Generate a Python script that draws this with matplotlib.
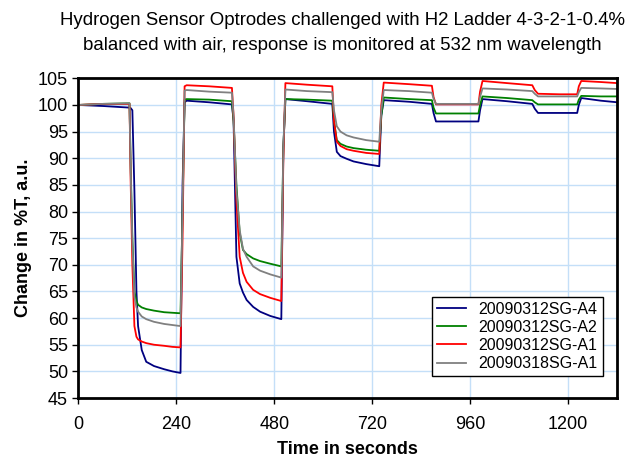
import matplotlib
matplotlib.use('Agg')
from matplotlib import pyplot as plt

plt.rcParams['font.family'] = ['Liberation Sans', 'DejaVu Sans']

# time grid (seconds), shared by all four optrodes
time_s = [0, 60, 125, 128, 132, 137, 142, 146, 155, 166, 185, 210, 230, 250,
          255, 260, 265, 320, 376,
          380, 387, 395, 403, 412, 428, 445, 470, 497,
          502, 507, 560, 622,
          626, 633, 642, 657, 674, 705, 737,
          742, 748, 810, 866,
          870, 876, 930, 980,
          984, 990, 1050, 1112,
          1118, 1126, 1180, 1222,
          1226, 1232, 1280, 1320]

sg_a4 = [100.0, 99.8, 99.5, 99.4, 99.0, 84.0, 65.0, 58.5, 54.0, 51.8, 51.0, 50.4, 50.0, 49.7,
         85.0, 100.5, 100.8, 100.5, 100.1,
         97.0, 71.5, 66.5, 64.8, 63.4, 62.1, 61.2, 60.4, 59.8,
         92.0, 101.1, 100.7, 100.2,
         95.0, 91.2, 90.4, 89.9, 89.4, 88.9, 88.5,
         98.0, 100.9, 100.6, 100.2,
         98.5, 96.9, 96.9, 96.9,
         99.0, 101.1, 100.7, 100.2,
         99.3, 98.5, 98.5, 98.5,
         100.0, 101.3, 100.8, 100.5]

sg_a2 = [100.0, 100.2, 100.3, 88.0, 75.0, 65.0, 63.2, 62.5, 62.0, 61.7, 61.4, 61.1, 61.0, 60.9,
         80.0, 101.0, 101.1, 101.0, 100.7,
         97.0, 85.0, 76.0, 72.8, 72.0, 71.2, 70.7, 70.2, 69.7,
         92.0, 101.1, 101.0, 100.8,
         97.0, 93.4, 92.7, 92.2, 91.9, 91.6, 91.4,
         98.0, 101.4, 101.1, 100.9,
         99.5, 98.4, 98.4, 98.4,
         100.0, 101.6, 101.3, 100.9,
         100.5, 100.1, 100.1, 100.1,
         101.0, 101.7, 101.6, 101.6]

sg_a1 = [100.0, 100.2, 100.2, 85.0, 70.0, 58.5, 56.5, 56.0, 55.6, 55.3, 55.0, 54.8, 54.6, 54.5,
         75.0, 103.5, 103.7, 103.5, 103.2,
         98.0, 82.0, 71.5, 68.5, 66.8, 65.3, 64.5, 63.8, 63.2,
         90.0, 104.1, 103.8, 103.5,
         97.0, 93.1, 92.3, 91.7, 91.4, 91.0, 90.8,
         100.0, 104.2, 103.9, 103.6,
         101.5, 100.1, 100.1, 100.1,
         102.5, 104.5, 104.1, 103.7,
         102.8, 102.1, 102.0, 102.0,
         103.5, 104.5, 104.3, 104.1]

sg18_a1 = [100.0, 100.2, 100.3, 87.0, 74.0, 64.0, 62.0, 61.2, 60.3, 59.8, 59.3, 58.9, 58.7, 58.5,
           80.0, 102.7, 102.8, 102.5, 102.3,
           98.0, 84.0, 76.5, 73.0, 71.5, 69.7, 68.9, 68.2, 67.6,
           92.0, 102.9, 102.6, 102.4,
           99.0, 96.0, 95.0, 94.3, 93.9, 93.4, 93.1,
           99.0, 102.8, 102.6, 102.3,
           101.2, 100.2, 100.2, 100.2,
           101.5, 103.1, 102.9, 102.6,
           102.1, 101.6, 101.6, 101.6,
           102.4, 103.2, 103.1, 103.0]

labels = ['20090312SG-A4', '20090312SG-A2', '20090312SG-A1', '20090318SG-A1']
colors = ['#000080', '#008000', '#ff0000', '#808080']
x_ticks = [0, 240, 480, 720, 960, 1200]
y_ticks = list(range(45, 106, 5))

fig = plt.figure(figsize=(6.33, 4.62), dpi=100)
ax = fig.add_axes([0.124, 0.1385, 0.851, 0.692])

for series, lab, col in zip([sg_a4, sg_a2, sg_a1, sg18_a1], labels, colors):
    ax.plot(time_s, series, color=col, lw=1.3, label=lab)

ax.set_xlim(0, 1320)
ax.set_ylim(45, 105)
ax.set_xticks(x_ticks)
ax.set_yticks(y_ticks)
ax.grid(color='#c4dff8', lw=1.0)
ax.set_axisbelow(True)
for sp in ax.spines.values():
    sp.set_linewidth(2)
    sp.set_color('black')
ax.tick_params(labelsize=13, length=4, width=1, direction='out')
ax.tick_params(axis='x', pad=9)

ax.set_xlabel('Time in seconds', fontsize=13, fontweight='bold', labelpad=6)
ax.set_ylabel('Change in %T, a.u.', fontsize=13, fontweight='bold', labelpad=4)

fig.text(0.541, 0.975,
         'Hydrogen Sensor Optrodes challenged with H2 Ladder 4-3-2-1-0.4%\n'
         'balanced with air, response is monitored at 532 nm wavelength',
         ha='center', va='top', fontsize=13.4, linespacing=1.65)

leg = ax.legend(loc='lower right', bbox_to_anchor=(0.973, 0.069), fontsize=11.5,
                frameon=True, fancybox=False, edgecolor='black', framealpha=1,
                handlelength=1.8, borderpad=0.3, labelspacing=0.2, borderaxespad=0)
leg.get_frame().set_linewidth(1)

fig.savefig('out.png', dpi=100)
